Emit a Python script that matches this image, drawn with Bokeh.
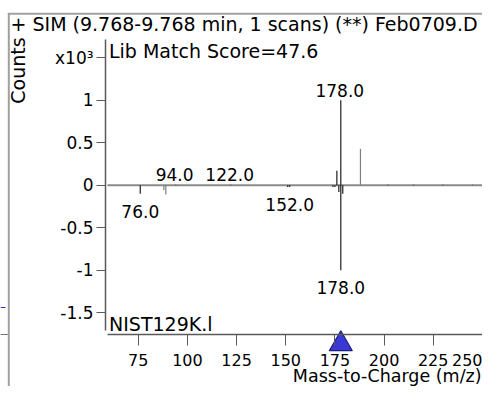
from bokeh.plotting import figure
from bokeh.models import ColumnDataSource, FixedTicker, Label, BoxAnnotation, Range1d
from bokeh.embed import file_html
from bokeh.resources import INLINE
from bokeh.core.properties import value

# ---------------- data ----------------
title_text = "+ SIM (9.768-9.768 min, 1 scans) (**) Feb0709.D"
score_text = "Lib Match Score=47.6"
library_name = "NIST129K.l"
x_title = "Mass-to-Charge (m/z)"
y_title = "Counts"

# sample spectrum (upper), counts x10^3
sample_mz = [94, 122, 176, 178, 188, 202, 215, 230, 245]
sample_counts = [0.005, 0.005, 0.17, 1.0, 0.43, 0.006, 0.006, 0.006, 0.006]
# library spectrum (lower, mirrored), counts x10^3
library_mz = [76, 88, 89, 151, 152, 174, 175, 177, 178, 179]
library_counts = [-0.10, -0.06, -0.11, -0.02, -0.02, -0.02, -0.02, -0.08, -1.0, -0.10]

sample_labels = [94, 122, 178]
library_labels = [76, 152, 178]
marker_mz = [178]

x_ticks = [75, 100, 125, 150, 175, 200, 225, 250]
y_ticks = [-1.5, -1, -0.5, 0, 0.5, 1, 1.5]
y_tick_labels = ["-1.5", "-1", "-0.5", "0", "0.5", "1", "x10\u00b3"]

# ---------------- style / layout ----------------
FONT = "DejaVu Sans"
FS_X = "16px"
FS_Y = "17px"
FS_NUM = "17px"
FS_TXT = "19px"
DARK = "#1e1e1e"
GRAY = "#808080"
AXIS = "#5a5a5a"
FRAME = "#a0a0a0"
gray_peaks = {88, 89, 188}

W, H = 482, 386
X0, X1 = 4.907, 250.08
Y0, Y1 = -2.368, 2.173
Y_AXIS_AT = 58.32
X_AXIS_AT = -1.756
Y_AXIS_BOUNDS = (-1.709, 1.714)
X_AXIS_BOUNDS = (59.33, X1)

p = figure(width=W, height=H, output_backend="svg", toolbar_location=None,
           x_range=Range1d(X0, X1), y_range=Range1d(Y0, Y1),
           min_border_left=0, min_border_right=0, min_border_top=0, min_border_bottom=0)
p.grid.visible = False
p.outline_line_color = None
p.background_fill_color = "white"
p.border_fill_color = "white"

xa = p.xaxis[0]
xa.ticker = FixedTicker(ticks=x_ticks)
xa.fixed_location = X_AXIS_AT
xa.bounds = X_AXIS_BOUNDS
xa.axis_line_color = AXIS
xa.axis_line_width = 1.5
xa.major_tick_out = 11
xa.major_tick_in = 0
xa.minor_tick_out = 0
xa.minor_tick_in = 0
xa.major_tick_line_color = AXIS
xa.major_label_text_font = FONT
xa.major_label_text_font_size = FS_X
xa.major_label_text_color = "black"
xa.major_label_standoff = 9

ya = p.yaxis[0]
ya.ticker = FixedTicker(ticks=y_ticks)
ya.major_label_overrides = {t: s for t, s in zip(y_ticks, y_tick_labels)}
ya.fixed_location = Y_AXIS_AT
ya.bounds = Y_AXIS_BOUNDS
ya.axis_line_color = AXIS
ya.axis_line_width = 1.5
ya.major_tick_out = 9
ya.major_tick_in = 0
ya.minor_tick_out = 0
ya.minor_tick_in = 0
ya.major_tick_line_color = AXIS
ya.major_label_text_font = FONT
ya.major_label_text_font_size = FS_Y
ya.major_label_text_color = "black"
ya.major_label_standoff = 3

# neighbouring panel frame lines and fragments
p.add_layout(BoxAnnotation(left=8.62, right=9.64, bottom=Y0, top=2.02,
                           fill_color=FRAME, fill_alpha=1, line_color=None, level="underlay"))
p.add_layout(BoxAnnotation(left=8.62, right=X1, bottom=2.005, top=2.028,
                           fill_color=FRAME, fill_alpha=1, line_color=None, level="underlay"))
p.add_layout(BoxAnnotation(left=X0, right=7.45, bottom=-1.445, top=-1.433,
                           fill_color="#3030d0", fill_alpha=1, line_color=None, level="underlay"))
p.add_layout(BoxAnnotation(left=X0, right=8.62, bottom=-1.762, top=-1.750,
                           fill_color="#707070", fill_alpha=1, line_color=None, level="underlay"))

# zero baseline along the x axis extent
p.segment(x0=[X_AXIS_BOUNDS[0]], y0=[0], x1=[X_AXIS_BOUNDS[1]], y1=[0],
          line_color="#8a8a8a", line_width=2)

# peaks
s_src = ColumnDataSource(dict(x=sample_mz, y0=[0] * len(sample_mz), y1=sample_counts,
                              c=[GRAY if m in gray_peaks else DARK for m in sample_mz]))
l_src = ColumnDataSource(dict(x=library_mz, y0=[0] * len(library_mz), y1=library_counts,
                              c=[GRAY if m in gray_peaks else DARK for m in library_mz]))
p.segment(x0="x", y0="y0", x1="x", y1="y1", line_color="c", line_width=1.2, source=s_src)
p.segment(x0="x", y0="y0", x1="x", y1="y1", line_color="c", line_width=1.2, source=l_src)

# peak labels
s_lab = ColumnDataSource(dict(x=sample_labels,
                              y=[sample_counts[sample_mz.index(m)] for m in sample_labels],
                              t=[f"{m:.1f}" for m in sample_labels]))
l_lab = ColumnDataSource(dict(x=library_labels,
                              y=[library_counts[library_mz.index(m)] for m in library_labels],
                              t=[f"{m:.1f}" for m in library_labels]))
p.text(x="x", y="y", text="t", source=s_lab, text_font=value(FONT), text_font_size=FS_NUM,
       text_align="center", text_baseline="middle", y_offset=-10, x_offset=-1, text_color="black")
p.text(x="x", y="y", text="t", source=l_lab, text_font=value(FONT), text_font_size=FS_NUM,
       text_align="center", text_baseline="top", y_offset=11, x_offset=0, text_color="black")

# marker triangle
p.scatter(x=marker_mz, y=[-1.869] * len(marker_mz), marker="triangle", size=23,
          fill_color="#3a3ad2", line_color="#1c1c80", line_width=1.2)

# texts
p.add_layout(Label(x=10.0, y=1.902, text=title_text, text_font=FONT, text_font_size=FS_TXT,
                   text_align="left", text_baseline="middle", text_color="black"))
p.add_layout(Label(x=60.1, y=1.579, text=score_text, text_font=FONT, text_font_size=FS_TXT,
                   text_align="left", text_baseline="middle", text_color="black"))
p.add_layout(Label(x=60.1, y=-1.627, text=library_name, text_font=FONT, text_font_size=FS_TXT,
                   text_align="left", text_baseline="middle", text_color="black"))
p.add_layout(Label(x=249.6, y=-2.240, text=x_title, text_font=FONT, text_font_size="17.5px",
                   text_align="right", text_baseline="middle", text_color="black"))
p.add_layout(Label(x=14.06, y=1.349, text=y_title, text_font=FONT, text_font_size=FS_TXT, angle=1.5708,
                   text_align="center", text_baseline="middle", text_color="black"))

open("out.html", "w").write(file_html(p, INLINE))
